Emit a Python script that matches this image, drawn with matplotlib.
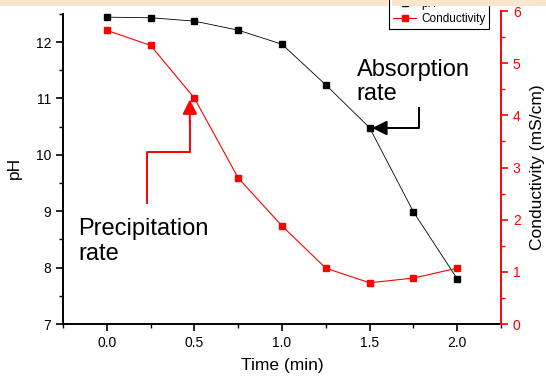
import matplotlib
matplotlib.use('Agg')
import matplotlib.pyplot as plt
from matplotlib.patches import Rectangle
from matplotlib.ticker import MultipleLocator

plt.rcParams['font.family'] = ['Liberation Sans', 'DejaVu Sans']

# data
time = [0.0, 0.25, 0.5, 0.75, 1.0, 1.25, 1.5, 1.75, 2.0]
ph = [12.44, 12.43, 12.37, 12.21, 11.96, 11.24, 10.48, 8.99, 7.80]
conductivity = [5.63, 5.34, 4.33, 2.80, 1.88, 1.07, 0.79, 0.88, 1.07]
xticks = [0.0, 0.5, 1.0, 1.5, 2.0]
xticklabels = ['0.0', '0.5', '1.0', '1.5', '2.0']

W, H = 546, 377
fig = plt.figure(figsize=(W / 100, H / 100), dpi=100)

left, right, bottom, top = 63, 501, 324, 11
ax = fig.add_axes([left / W, 1 - bottom / H, (right - left) / W, (bottom - top) / H])
ax2 = ax.twinx()

ln1, = ax.plot(time, ph, color='black', lw=0.6, marker='s', ms=5, label='pH', zorder=3)
ln2, = ax2.plot(time, conductivity, color='red', lw=0.8, marker='s', ms=5, label='Conductivity', zorder=3)

ax.set_xlim(-0.25, 2.25)
ax.set_ylim(7, 7 + (bottom - top) / 56.4)
ax2.set_ylim(0, 6)
ax.spines['left'].set_bounds(7, 12.5)

ax.set_xticks(xticks)
ax.set_xticklabels(xticklabels)
ax.xaxis.set_minor_locator(MultipleLocator(0.25))
ax.set_yticks([7, 8, 9, 10, 11, 12])
ax.yaxis.set_minor_locator(MultipleLocator(0.5))
ax2.set_yticks([0, 1, 2, 3, 4, 5, 6])
ax2.yaxis.set_minor_locator(MultipleLocator(0.5))

for a in (ax, ax2):
    a.spines['top'].set_visible(False)
    for s in a.spines.values():
        s.set_linewidth(1.4)
ax.spines['right'].set_visible(False)
ax2.spines['left'].set_visible(False)
ax2.spines['bottom'].set_visible(False)
ax2.spines['right'].set_color('red')

ax.tick_params(which='major', direction='out', length=5, width=1.2, labelsize=10)
ax.tick_params(which='minor', direction='out', length=3, width=1.0)
ax2.tick_params(which='major', direction='out', length=5, width=1.2, labelsize=10,
                colors='red')
ax2.tick_params(which='minor', direction='out', length=3, width=1.0, colors='red')

ax.set_xlabel('Time (min)', fontsize=12.5, labelpad=6)
ax.set_ylabel('pH', fontsize=12.5, labelpad=10)
ax2.set_ylabel('Conductivity (mS/cm)', fontsize=12.5, labelpad=7)

# annotations
ax.text(1.425, 11.70, 'Absorption\nrate', fontsize=17, ha='left', va='top', linespacing=1.15)
ax.text(-0.165, 8.88, 'Precipitation\nrate', fontsize=17, ha='left', va='top', linespacing=1.15)

ax.plot([1.784, 1.784, 1.60], [10.83, 10.475, 10.475], color='black', lw=1.4, zorder=4)
ax.annotate('', xy=(1.515, 10.475), xytext=(1.62, 10.475),
            arrowprops=dict(arrowstyle='-|>', color='black', lw=1.4, mutation_scale=22,
                            shrinkA=0, shrinkB=0), zorder=4)
ax.plot([0.229, 0.229, 0.474, 0.474], [9.145, 10.05, 10.05, 10.6], color='red', lw=1.4, zorder=4)
ax.annotate('', xy=(0.474, 10.98), xytext=(0.474, 10.55),
            arrowprops=dict(arrowstyle='-|>', color='red', lw=1.4, mutation_scale=22,
                            shrinkA=0, shrinkB=0), zorder=4)

leg = ax2.legend([ln1, ln2], ['pH', 'Conductivity'], loc='lower right',
                 bbox_to_anchor=(489 / W, 1 - 29 / H), bbox_transform=fig.transFigure,
                 fontsize=8.5, fancybox=False, edgecolor='black', framealpha=1,
                 handlelength=2.0, borderpad=0.3, labelspacing=0.3, handletextpad=0.4,
                 borderaxespad=0)
leg.get_frame().set_linewidth(0.8)

# peach strip at the top of the screenshot
fig.patches.append(Rectangle((0, 1 - 6 / H), 388 / W, 6 / H, transform=fig.transFigure,
                             facecolor='#fbe5cd', edgecolor='none', zorder=10))
fig.patches.append(Rectangle((392 / W, 1 - 6 / H), 1 - 392 / W, 6 / H, transform=fig.transFigure,
                             facecolor='#fbe5cd', edgecolor='none', zorder=10))

fig.savefig('out.png', dpi=100)
